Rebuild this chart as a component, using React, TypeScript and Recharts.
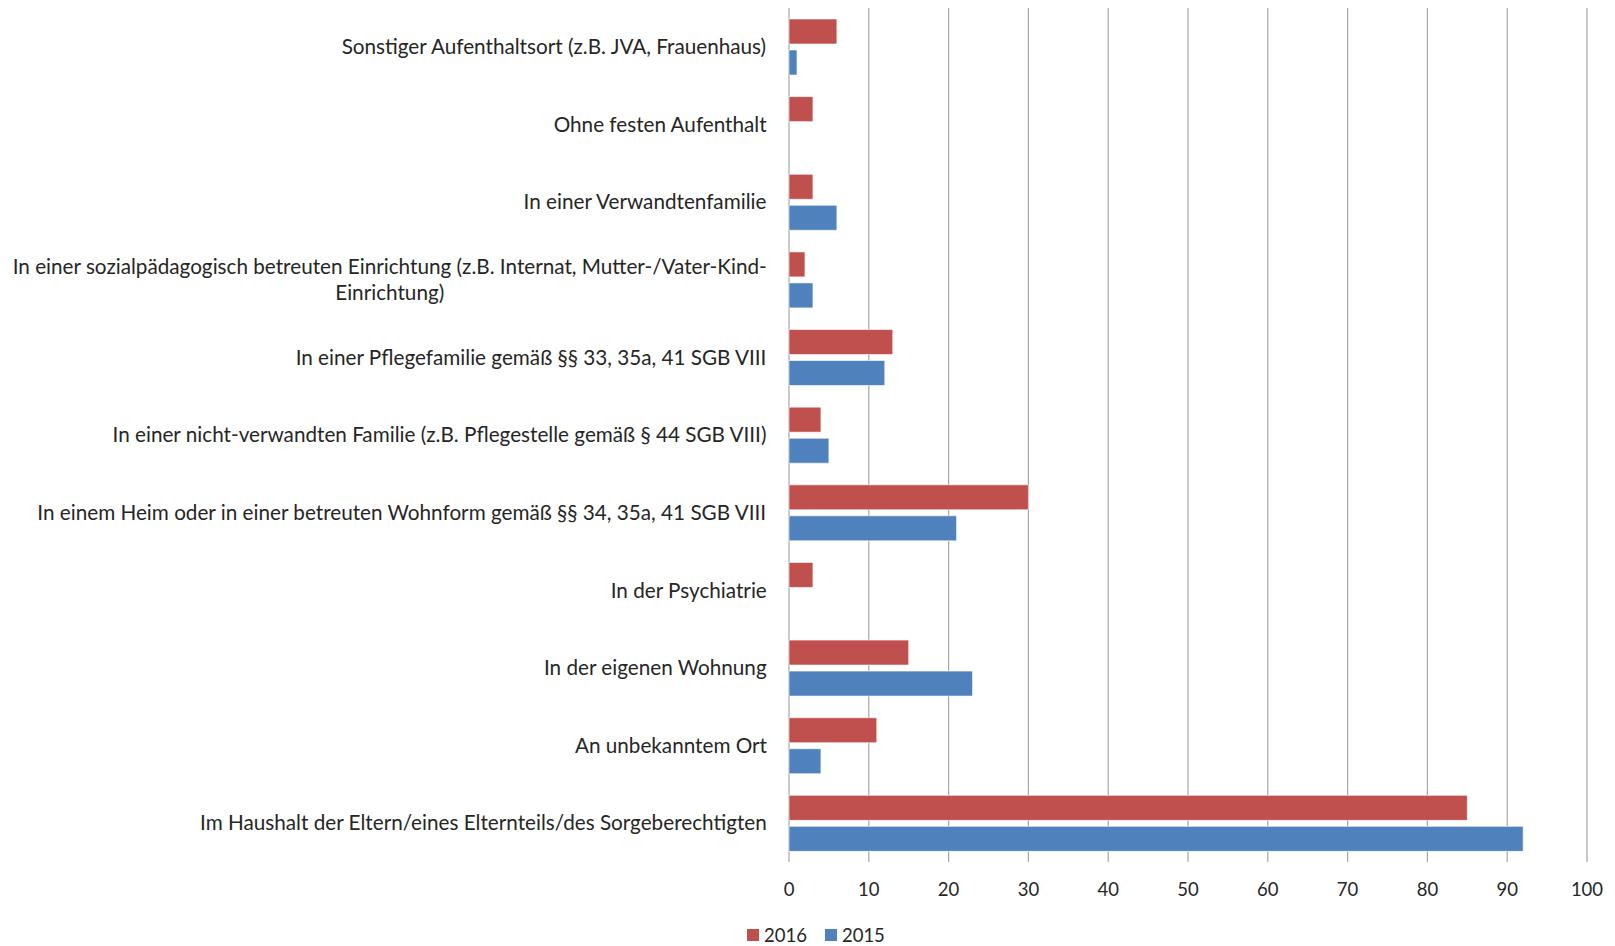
import React from 'react';
import { BarChart, Bar, XAxis, YAxis, CartesianGrid, Legend } from 'recharts';

// Aufenthaltsort, von oben nach unten
const categories = [
  'Sonstiger Aufenthaltsort (z.B. JVA, Frauenhaus)',
  'Ohne festen Aufenthalt',
  'In einer Verwandtenfamilie',
  'In einer sozialpädagogisch betreuten Einrichtung (z.B. Internat, Mutter-/Vater-Kind-Einrichtung)',
  'In einer Pflegefamilie gemäß §§ 33, 35a, 41 SGB VIII',
  'In einer nicht-verwandten Familie (z.B. Pflegestelle gemäß § 44 SGB VIII)',
  'In einem Heim oder in einer betreuten Wohnform gemäß §§ 34, 35a, 41 SGB VIII',
  'In der Psychiatrie',
  'In der eigenen Wohnung',
  'An unbekanntem Ort',
  'Im Haushalt der Eltern/eines Elternteils/des Sorgeberechtigten',
];

const values2016 = [6, 3, 3, 2, 13, 4, 30, 3, 15, 11, 85];
const values2015 = [1, 0, 6, 3, 12, 5, 21, 0, 23, 4, 92];

const xTicks = [0, 10, 20, 30, 40, 50, 60, 70, 80, 90, 100];

const series = [
  { key: 'y2016', name: '2016', color: '#C0504D' },
  { key: 'y2015', name: '2015', color: '#4F81BD' },
];

const data = categories.map((name, i) => ({
  name,
  y2016: values2016[i],
  y2015: values2015[i],
}));

const FONT = 'Lato, "Open Sans", sans-serif';
const TEXT = '#262626';
const LABEL_SIZE = 20.7;
const LINE_HEIGHT = 26.5;

// break long labels after a space or hyphen
function wrapLabel(s: string, max = 84): string[] {
  const lines: string[] = [];
  let rest = s;
  while (rest.length > max) {
    let cut = -1;
    for (let i = max - 1; i > 0; i--) {
      if (rest[i] === ' ') { cut = i; lines.push(rest.slice(0, i)); rest = rest.slice(i + 1); break; }
      if (rest[i] === '-') { cut = i; lines.push(rest.slice(0, i + 1)); rest = rest.slice(i + 1); break; }
    }
    if (cut < 0) break;
  }
  lines.push(rest);
  return lines;
}

let ctx: CanvasRenderingContext2D | null = null;
function textWidth(s: string): number {
  if (!ctx) ctx = document.createElement('canvas').getContext('2d');
  if (!ctx) return s.length * LABEL_SIZE * 0.45;
  ctx.font = `${LABEL_SIZE}px ${FONT}`;
  return ctx.measureText(s).width;
}

// label block sits right-aligned against the axis, lines centered inside it
const CategoryTick = (props: any) => {
  const { x, y, payload } = props;
  const lines = wrapLabel(String(payload.value));
  const blockWidth = Math.max(...lines.map(textWidth));
  const cx = x - blockWidth / 2;
  const y0 = y - ((lines.length - 1) * LINE_HEIGHT) / 2;
  return (
    <text x={cx} y={y0} textAnchor="middle" fill={TEXT} fontFamily={FONT} fontSize={LABEL_SIZE}>
      {lines.map((l, i) => (
        <tspan key={i} x={cx} y={y0 + i * LINE_HEIGHT} dy="0.35em">{l}</tspan>
      ))}
    </text>
  );
};

const LegendContent = () => (
  <div style={{ display: 'flex', alignItems: 'center', height: 22, fontFamily: FONT, fontSize: 18.5, color: TEXT }}>
    {series.map((s) => (
      <span key={s.key} style={{ display: 'flex', alignItems: 'center', marginRight: 18 }}>
        <span style={{ display: 'inline-block', width: 12, height: 12, background: s.color, marginRight: 5 }} />
        {s.name}
      </span>
    ))}
  </div>
);

export default function App() {
  return (
    <div style={{ position: 'absolute', left: 0, top: 0, width: 1615, height: 946, background: '#fff' }}>
      <BarChart
        width={1615}
        height={946}
        data={data}
        layout="vertical"
        margin={{ top: 8, right: 28, bottom: 0, left: 0 }}
        barSize={25}
        barGap={6}
      >
        <CartesianGrid horizontal={false} stroke="#a6a6a6" strokeWidth={1.2} />
        <XAxis
          type="number"
          domain={[0, 100]}
          ticks={xTicks}
          axisLine={false}
          tickLine={false}
          tickSize={0}
          tickMargin={21}
          height={62}
          tick={{ fill: TEXT, fontSize: 18.5, fontFamily: FONT }}
        />
        <YAxis
          type="category"
          dataKey="name"
          width={789}
          axisLine={false}
          tickLine={false}
          tickSize={0}
          tickMargin={22}
          interval={0}
          tick={<CategoryTick />}
        />
        <Legend
          verticalAlign="bottom"
          content={<LegendContent />}
          wrapperStyle={{ left: 747, width: 'auto', bottom: 0 }}
        />
        {series.map((s) => (
          <Bar
            key={s.key}
            dataKey={s.key}
            name={s.name}
            fill={s.color}
            stroke="rgba(255,255,255,0.6)"
            strokeWidth={1}
            isAnimationActive={false}
          />
        ))}
      </BarChart>
    </div>
  );
}
